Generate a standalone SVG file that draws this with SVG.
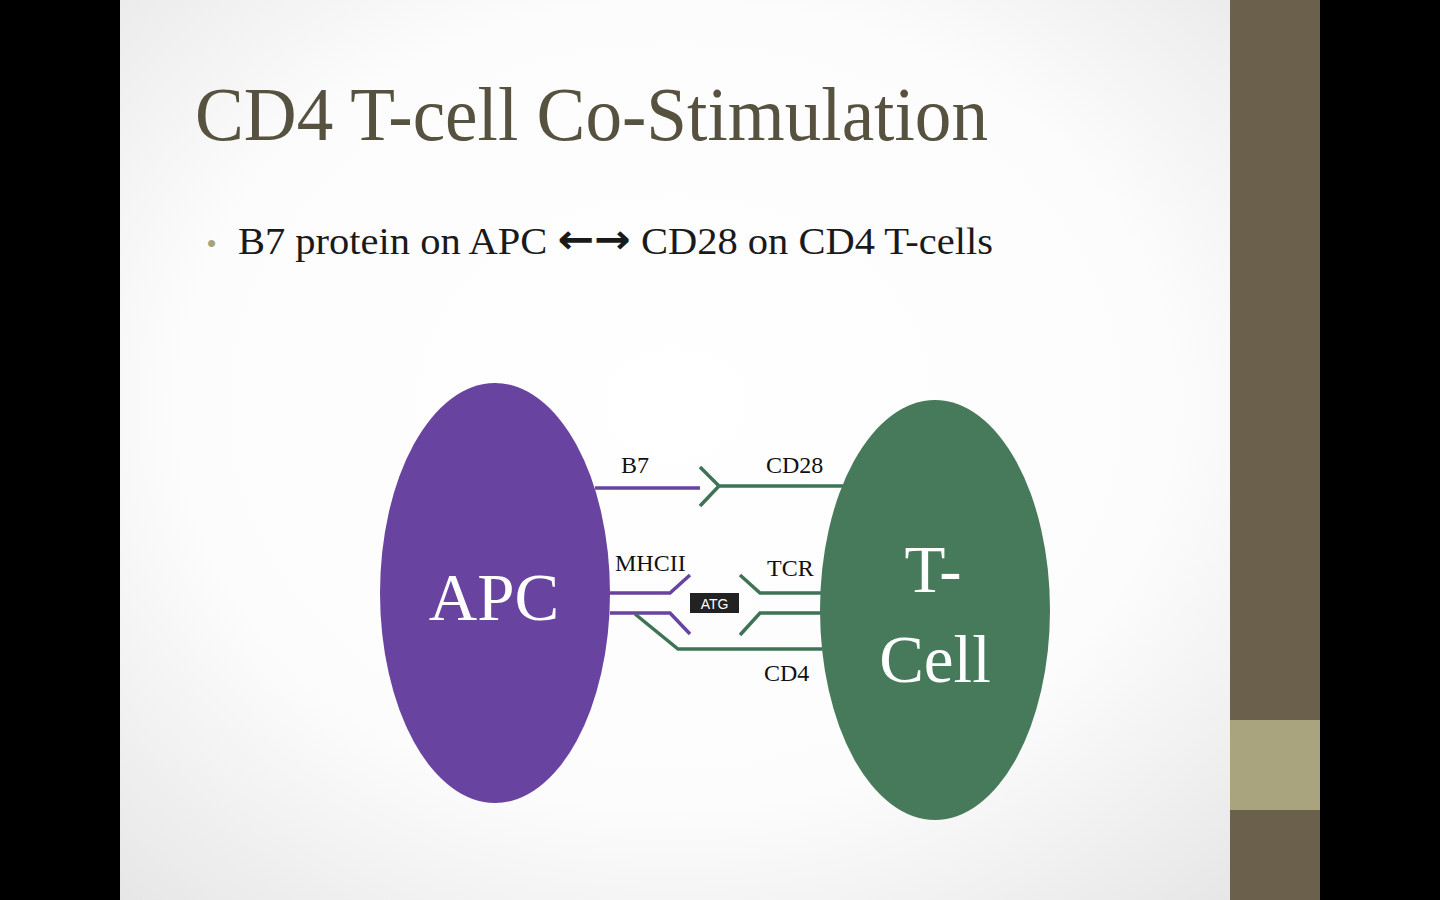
<svg xmlns="http://www.w3.org/2000/svg" width="1440" height="900" viewBox="0 0 1440 900">
<defs>
<radialGradient id="bg" cx="0.5" cy="0.45" r="0.75">
<stop offset="0" stop-color="#ffffff"/>
<stop offset="0.6" stop-color="#fcfcfc"/>
<stop offset="1" stop-color="#e6e6e6"/>
</radialGradient>
<style>
.lbl{font-family:"Liberation Serif","DejaVu Serif",serif;font-size:24px;fill:#111}
.cell{font-family:"Liberation Serif","DejaVu Serif",serif;font-size:67px;fill:#ffffff}
.p{fill:none;stroke:#6843a0;stroke-width:3.5}
.g{fill:none;stroke:#3f7356;stroke-width:3.5}
</style>
</defs>
<rect x="0" y="0" width="1440" height="900" fill="#000"/>
<rect x="120" y="0" width="1110" height="900" fill="url(#bg)"/>
<rect x="1230" y="0" width="90" height="900" fill="#6a604c"/>
<rect x="1230" y="720" width="90" height="90" fill="#aaa47e"/>
<text x="195" y="140" font-family="Liberation Serif,DejaVu Serif,serif" font-size="76" fill="#575140" textLength="793" lengthAdjust="spacingAndGlyphs">CD4 T-cell Co-Stimulation</text>
<text x="207" y="252" font-family="Liberation Sans,sans-serif" font-size="26" fill="#a8a47a">•</text>
<text x="238" y="254" font-family="Liberation Serif,DejaVu Serif,serif" font-size="37" fill="#1a1a1a" textLength="755" lengthAdjust="spacingAndGlyphs">B7 protein on APC <tspan font-family="DejaVu Sans,sans-serif" font-size="40" font-weight="bold" dy="-1">←→</tspan><tspan dy="1"> CD28 on CD4 T-cells</tspan></text>
<g id="connectors">
<path class="p" d="M595 488 H700"/>
<path class="g" d="M700 467 L719 486 L700 506 M719 486 H846"/>
<path class="p" d="M610 593 H670 L690 575"/>
<path class="p" d="M610 613 H670 L690 634"/>
<path class="g" d="M740 575 L760 593 H821"/>
<path class="g" d="M740 635 L760 613 H821"/>
<path class="g" d="M635 614 L678 649 H822"/>
</g>
<g id="apc">
<ellipse cx="495" cy="593" rx="115" ry="210" fill="#6843a0"/>
<text class="cell" x="494" y="620" text-anchor="middle">APC</text>
</g>
<g id="tcell">
<ellipse cx="935" cy="610" rx="115" ry="210" fill="#477a5a"/>
<text class="cell" x="933" y="592" text-anchor="middle">T-</text>
<text class="cell" x="935" y="682" text-anchor="middle">Cell</text>
</g>
<g id="atg">
<rect x="690" y="593" width="49" height="20" fill="#222"/>
<text x="714.5" y="608.5" text-anchor="middle" font-family="Liberation Sans,Arial,sans-serif" font-size="14" fill="#fff">ATG</text>
</g>
<g id="labels">
<text class="lbl" x="621" y="473">B7</text>
<text class="lbl" x="766" y="473">CD28</text>
<text class="lbl" x="615" y="571">MHCII</text>
<text class="lbl" x="767" y="576">TCR</text>
<text class="lbl" x="764" y="681">CD4</text>
</g>
</svg>
